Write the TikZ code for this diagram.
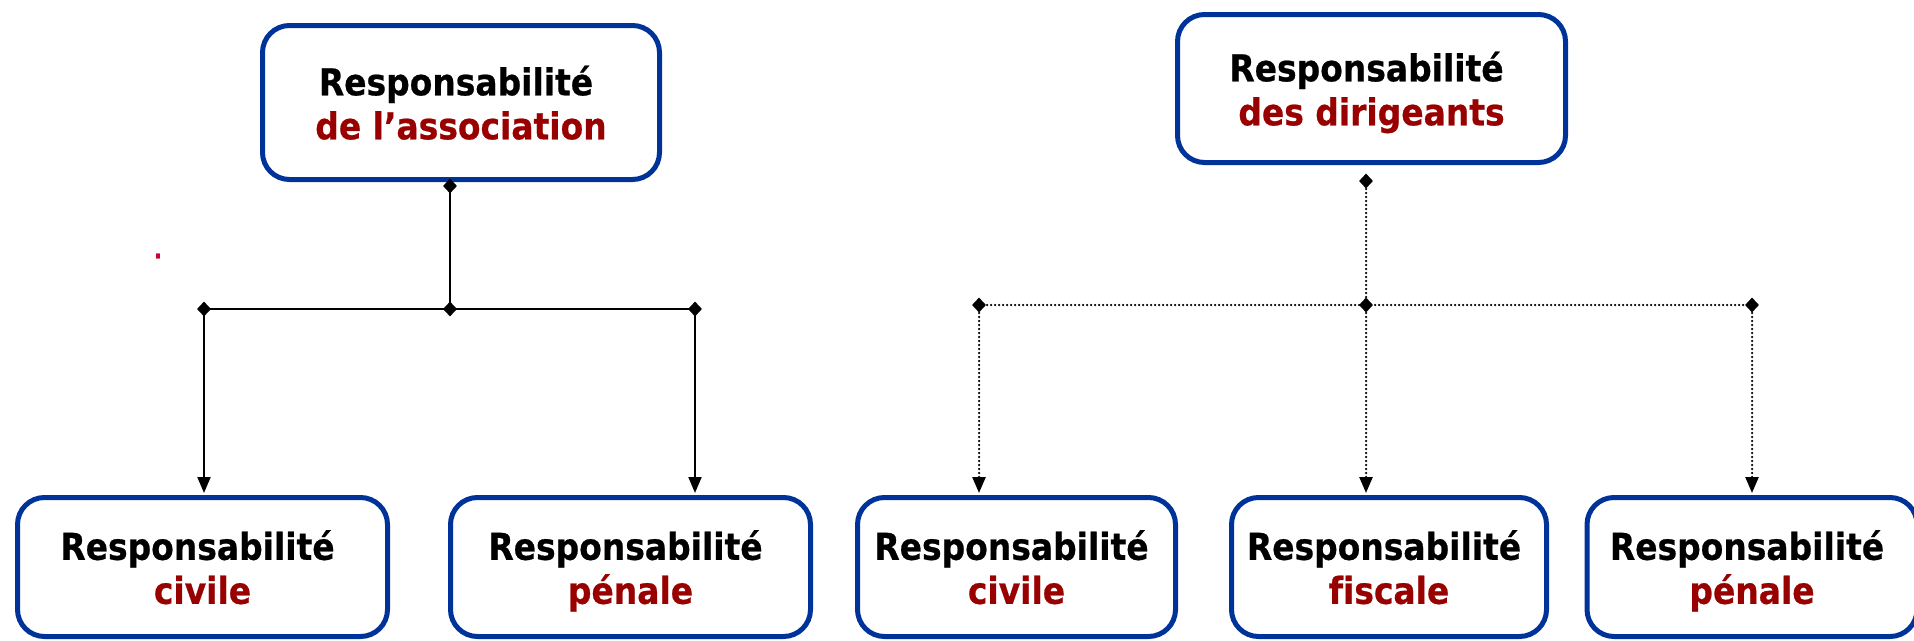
\documentclass[tikz,border=0pt]{standalone}
\usepackage{fontspec}
\setmainfont{DejaVu Sans}[Ligatures=NoCommon, FakeStretch=0.89, BoldFeatures={FakeBold=0.6}]
\usetikzlibrary{arrows.meta,shapes.geometric}
\definecolor{bblue}{RGB}{0,51,153}
\definecolor{dred}{RGB}{153,0,0}
\definecolor{crim}{RGB}{204,0,51}
\newcommand{\trail}{\hspace*{10pt}}
\begin{document}
\begin{tikzpicture}[x=1pt,y=-1pt,
 box/.style={draw=bblue, line width=5pt, rounded corners=27pt, align=center, inner sep=0pt, fill=white,
   text depth=0pt, font=\fontsize{37}{44}\selectfont\bfseries},
 jdot/.style={diamond, fill=black, inner sep=0pt, minimum width=14pt, minimum height=15pt},
 solidc/.style={line width=2pt, black},
 dotc/.style={line width=2.5pt, black, dash pattern=on 0pt off 4pt, line cap=round},
 tip/.style={-{Triangle[width=13pt,length=16pt]}}]
\useasboundingbox (0,0) rectangle (1914,640);

% top boxes
\node[box, minimum width=397pt, minimum height=154pt] (assoc) at (461,102.5)
  {Responsabilité\trail\\\textcolor{dred}{de l’association}};
\node[box, minimum width=388pt, minimum height=148pt] (dirig) at (1371.5,88.5)
  {Responsabilité\trail\\\textcolor{dred}{des dirigeants}};

% bottom boxes
\node[box, minimum width=370pt, minimum height=139pt] (c1) at (202.5,567)
  {Responsabilité\trail\\\textcolor{dred}{civile}};
\node[box, minimum width=360pt, minimum height=139pt] (p1) at (630.5,567)
  {Responsabilité\trail\\\textcolor{dred}{pénale}};
\node[box, minimum width=318pt, minimum height=139pt] (c2) at (1016.5,567)
  {Responsabilité\trail\\\textcolor{dred}{civile}};
\node[box, minimum width=315pt, minimum height=139pt] (f2) at (1389,567)
  {Responsabilité\trail\\\textcolor{dred}{fiscale}};
\node[box, minimum width=330pt, minimum height=139pt] (p2) at (1752,567)
  {Responsabilité\trail\\\textcolor{dred}{pénale}};

% stray red dot
\node[text=crim, font=\fontsize{24}{24}\selectfont\bfseries, inner sep=0pt] (dot) at (158,256) {.};

% left tree
\coordinate (a0) at (450,186);
\coordinate (ja) at (450,309);
\coordinate (jaL) at (204,309);
\coordinate (jaR) at (695,309);
\draw[solidc] (a0) -- (ja);
\draw[solidc] (jaL) -- (jaR);
\draw[solidc,tip,shorten >=2pt] (jaL) -- (jaL |- c1.north);
\draw[solidc,tip,shorten >=2pt] (jaR) -- (jaR |- p1.north);
\foreach \p in {a0,ja,jaL,jaR} \node[jdot] at (\p) {};

% right tree
\coordinate (d0) at (1366,181);
\coordinate (jd) at (1366,305);
\coordinate (jdL) at (979,305);
\coordinate (jdR) at (1752,305);
\draw[dotc] (d0) -- (jd);
\draw[dotc] (jdL) -- (jdR);
\draw[dotc,tip,shorten >=2pt] (jdL) -- (jdL |- c2.north);
\draw[dotc,tip,shorten >=2pt] (jd) -- (jd |- f2.north);
\draw[dotc,tip,shorten >=2pt] (jdR) -- (jdR |- p2.north);
\foreach \p in {d0,jd,jdL,jdR} \node[jdot] at (\p) {};
\end{tikzpicture}
\end{document}
